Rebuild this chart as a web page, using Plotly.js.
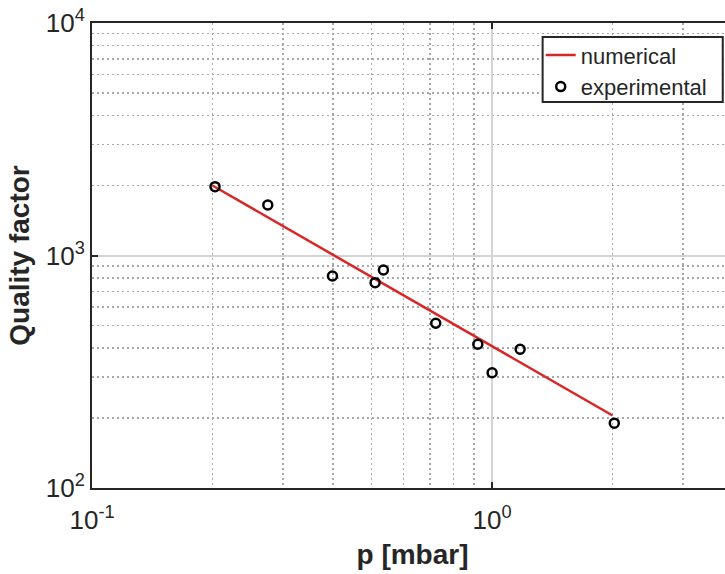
<!DOCTYPE html>
<html>
<head>
<meta charset="utf-8">
<script src="https://cdn.plot.ly/plotly-3.0.1.min.js"></script>
<style>
html,body{margin:0;padding:0;overflow:hidden;background:#fff;}
#chart{width:745px;height:574px;}
</style>
</head>
<body>
<div id="chart"></div>
<script>
// Data
var pNumerical = [0.2, 2.0];
var qNumerical = [2000, 205];
var pExperimental = [0.203, 0.275, 0.399, 0.51, 0.535, 0.723, 0.921, 1.0, 1.175, 2.02];
var qExperimental = [1977, 1649, 816, 764, 866, 511, 415, 313, 395, 190];

var xTickVals = [0.1, 1];
var xTickText = ['10<sup>-1</sup>', '10<sup>0</sup>'];
var yTickVals = [100, 1000, 10000];
var yTickText = ['10<sup>2</sup>', '10<sup>3</sup>', '10<sup>4</sup>'];
var xMinor = [0.2,0.3,0.4,0.5,0.6,0.7,0.8,0.9,2,3];
var yMinor = [200,300,400,500,600,700,800,900,2000,3000,4000,5000,6000,7000,8000,9000];

var font = 'Liberation Sans, Arial, Helvetica, sans-serif';
var dark = '#262626';

var traces = [
  {x: pNumerical, y: qNumerical, type: 'scatter', mode: 'lines', name: 'numerical',
   line: {color: '#d92626', width: 2.5}},
  {x: pExperimental, y: qExperimental, type: 'scatter', mode: 'markers', name: 'experimental',
   marker: {symbol: 'circle-open', size: 9, color: '#000', line: {width: 2.5, color: '#000'}}}
];

var axisCommon = {
  type: 'log', showline: true, linecolor: dark, linewidth: 2, mirror: 'ticks',
  ticks: 'inside', ticklen: 6, tickwidth: 2, tickcolor: dark,
  showgrid: true, gridcolor: '#d4d4d4', gridwidth: 2,
  tickfont: {family: font, size: 26, color: dark},
  tickmode: 'array'
};

var minorCommon = {tickmode: 'array', showgrid: true, griddash: '2px,3px',
                   gridcolor: '#a8a8a8', gridwidth: 1.5, ticks: ''};

var layout = {
  width: 745, height: 574,
  margin: {l: 92, r: 12, t: 23, b: 86},
  paper_bgcolor: '#fff', plot_bgcolor: '#fff',
  showlegend: true,
  xaxis: Object.assign({}, axisCommon, {
    range: [-1, Math.log10(4)],
    tickvals: xTickVals, ticktext: xTickText,
    ticklabelstandoff: 8,
    minor: Object.assign({tickvals: xMinor}, minorCommon),
    title: {text: '<b>p [mbar]</b>', font: {family: font, size: 28, color: dark}, standoff: 10}
  }),
  yaxis: Object.assign({}, axisCommon, {
    range: [2, 4],
    tickvals: yTickVals, ticktext: yTickText,
    minor: Object.assign({tickvals: yMinor}, minorCommon),
    title: {text: '<b>Quality factor</b>', font: {family: font, size: 28, color: dark}, standoff: 8}
  }),
  legend: {
    x: 0.700, y: 0.976, xanchor: 'left', yanchor: 'top',
    bgcolor: 'rgba(0,0,0,0)', borderwidth: 0,
    font: {family: font, size: 22, color: dark},
    tracegroupgap: 0
  },
  shapes: [{
    type: 'rect', xref: 'paper', yref: 'paper', layer: 'above',
    x0: 0.703, x1: 0.984, y0: 0.830, y1: 0.970,
    fillcolor: '#fff', line: {color: dark, width: 2}
  }]
};

Plotly.newPlot('chart', traces, layout, {displayModeBar: false, staticPlot: true});
</script>
</body>
</html>
